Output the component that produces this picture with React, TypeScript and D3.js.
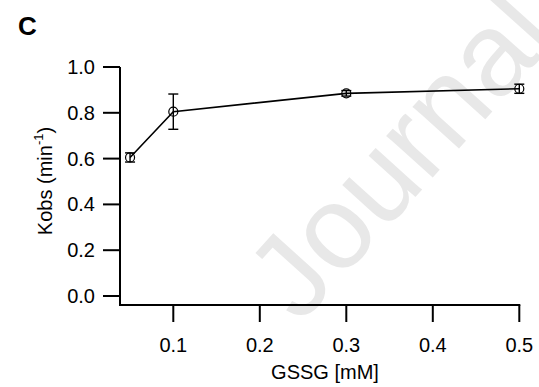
import React from "react";
import * as d3 from "d3";

const gssg = [0.05, 0.1, 0.3, 0.5];
const kobs = [0.605, 0.805, 0.885, 0.905];
const errs = [0.02, 0.077, 0.012, 0.02];
const xTicks = [0.1, 0.2, 0.3, 0.4, 0.5];
const yTicks = [0, 0.2, 0.4, 0.6, 0.8, 1.0];

const W = 539;
const H = 387;
const FONT = "'Liberation Sans', Arial, sans-serif";

export default function App() {
  const x = d3.scaleLinear().domain([0.1, 0.5]).range([173.3, 519.3]);
  const y = d3.scaleLinear().domain([0, 1]).range([296, 67]);
  const axisX0 = 120;
  const axisY0 = 305;
  const pts = gssg.map((g, i) => ({ g, k: kobs[i], e: errs[i] }));
  const line = d3
    .line<{ g: number; k: number }>()
    .x((d) => x(d.g))
    .y((d) => y(d.k));
  const fmt = d3.format(".1f");
  const cap = 5;

  return (
    <svg
      width={W}
      height={H}
      style={{ position: "absolute", left: 0, top: 0, background: "#fff" }}
      fontFamily={FONT}
    >
      <rect width={W} height={H} fill="#fff" />
      <text
        transform="translate(300,325) rotate(-48)"
        fontSize={118}
        fill="#e8e8e8"
        fontFamily={FONT}
      >
        Journal
      </text>
      <text x={18} y={35} fontSize={26} fontWeight="bold">
        C
      </text>
      {/* y axis */}
      <line x1={axisX0} x2={axisX0} y1={y(1)} y2={axisY0} stroke="#000" strokeWidth={2} />
      {yTicks.map((t) => (
        <g key={"y" + t}>
          <line x1={103} x2={axisX0} y1={y(t)} y2={y(t)} stroke="#000" strokeWidth={2} />
          <text x={95} y={y(t)} dy="0.35em" fontSize={20} textAnchor="end">
            {fmt(t)}
          </text>
        </g>
      ))}
      {/* x axis */}
      <line x1={axisX0 - 1} x2={x(0.5) + 1} y1={axisY0} y2={axisY0} stroke="#000" strokeWidth={2} />
      {xTicks.map((t) => (
        <g key={"x" + t}>
          <line x1={x(t)} x2={x(t)} y1={axisY0} y2={322} stroke="#000" strokeWidth={2} />
          <text x={x(t)} y={352} fontSize={20} textAnchor="middle">
            {fmt(t)}
          </text>
        </g>
      ))}
      <text x={325} y={379} fontSize={20} textAnchor="middle">
        GSSG [mM]
      </text>
      <text transform="translate(52,181) rotate(-90)" fontSize={20} textAnchor="middle">
        Kobs (min
        <tspan fontSize={13} dy={-9}>
          -1
        </tspan>
        <tspan dy={9}>)</tspan>
      </text>
      {/* data */}
      <path d={line(pts) || ""} fill="none" stroke="#000" strokeWidth={1.6} />
      {pts.map((p, i) => (
        <g key={"p" + i} stroke="#000" strokeWidth={1.4} fill="none">
          <line x1={x(p.g)} x2={x(p.g)} y1={y(p.k - p.e)} y2={y(p.k + p.e)} />
          <line x1={x(p.g) - cap} x2={x(p.g) + cap} y1={y(p.k - p.e)} y2={y(p.k - p.e)} />
          <line x1={x(p.g) - cap} x2={x(p.g) + cap} y1={y(p.k + p.e)} y2={y(p.k + p.e)} />
          <circle cx={x(p.g)} cy={y(p.k)} r={4.5} strokeWidth={1.2} />
        </g>
      ))}
    </svg>
  );
}
